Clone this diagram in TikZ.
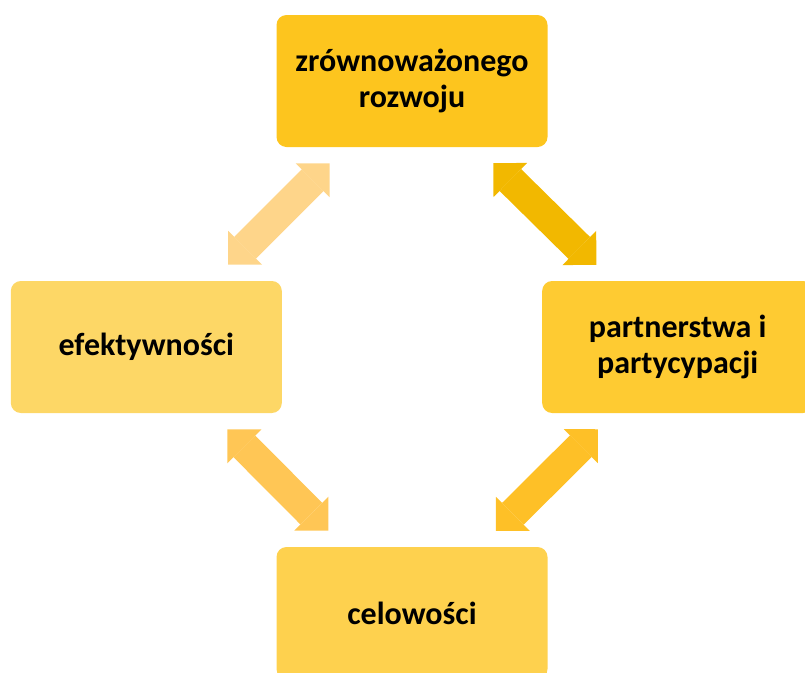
\documentclass[tikz,border=0pt]{standalone}
\usepackage{fontspec}
\setmainfont{Carlito}
\usetikzlibrary{arrows.meta}

\definecolor{topfill}{RGB}{253,197,30}
\definecolor{leftfill}{RGB}{253,215,102}
\definecolor{rightfill}{RGB}{254,203,50}
\definecolor{bottomfill}{RGB}{254,209,78}
\definecolor{tlarrow}{RGB}{254,213,138}
\definecolor{trarrow}{RGB}{242,184,0}
\definecolor{blarrow}{RGB}{255,198,85}
\definecolor{brarrow}{RGB}{254,192,39}

\begin{document}
\begin{tikzpicture}[
  x=0.75pt,y=-0.75pt,
  font=\bfseries\fontsize{24}{26.5}\selectfont,
  every matrix/.style={ampersand replacement=\&,column sep=-4pt,row sep=100.5pt},
  box/.style={rounded corners=7.5pt,minimum width=203.25pt,minimum height=99pt,inner sep=0pt},
  link/.style={>={Triangle[width=36pt,length=18pt,line width=0pt]},<->,line width=23pt,
    shorten >=17pt,shorten <=17pt},
  every node/.style={align=center}]

  \useasboundingbox (0,0) rectangle (805,673);

  % Position the boxes using a matrix layout
  \matrix at (412,347) {
    \& \node[box,fill=topfill] (rozwoj) {zrównoważonego\\rozwoju}; \& \\

    \node[box,fill=leftfill] (efekt) {efektywności};
      \&
      \& \node[box,fill=rightfill] (partner) {partnerstwa i\\partycypacji}; \\

    \& \node[box,fill=bottomfill] (cel) {celowości}; \& \\
  };

  % Double arrows between the boxes
  \draw[link,tlarrow] ([xshift=-52.5pt]efekt.north east) -- ([xshift=52pt]rozwoj.south west);
  \draw[link,trarrow] ([xshift=-53pt]rozwoj.south east) -- ([xshift=53pt]partner.north west);
  \draw[link,blarrow] ([xshift=-53pt]efekt.south east) -- ([xshift=51pt]cel.north west);
  \draw[link,brarrow] ([xshift=54pt]partner.south west) -- ([xshift=-51pt]cel.north east);

\end{tikzpicture}
\end{document}
